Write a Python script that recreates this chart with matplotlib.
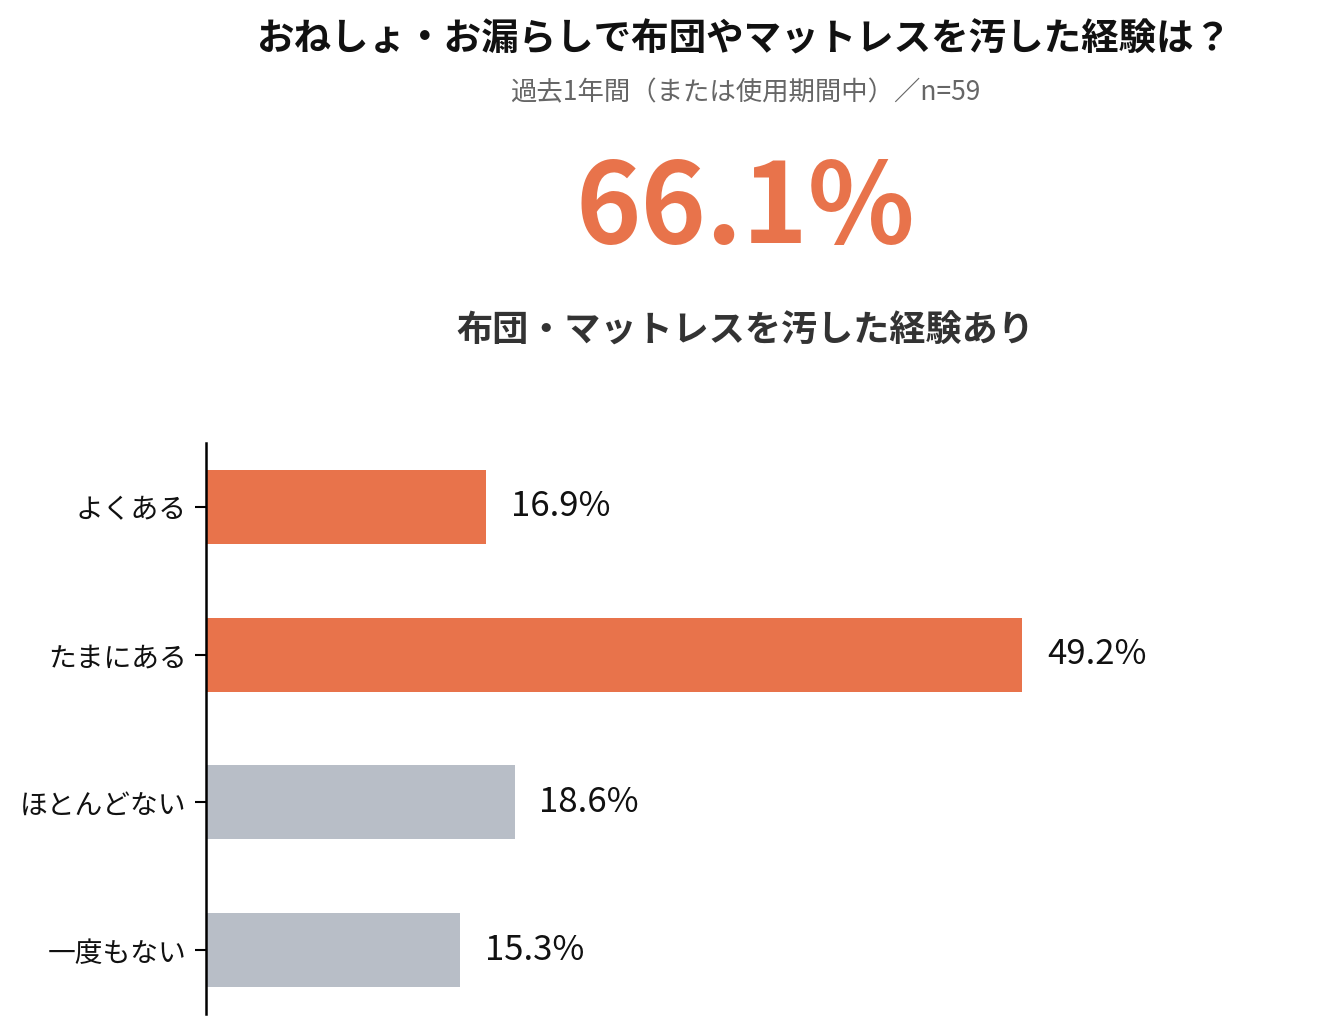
import matplotlib
matplotlib.use("Agg")
import matplotlib.pyplot as plt

plt.rcParams['font.family'] = ['Noto Sans CJK JP', 'DejaVu Sans']

categories = ["よくある", "たまにある", "ほとんどない", "一度もない"]
values = [16.9, 49.2, 18.6, 15.3]
colors = ["#E8734B", "#E8734B", "#B8BEC7", "#B8BEC7"]
title = "おねしょ・お漏らしで布団やマットレスを汚した経験は？"
subtitle = "過去1年間（または使用期間中）／n=59"
headline = "66.1%"
headline_label = "布団・マットレスを汚した経験あり"

fig = plt.figure(figsize=(13.41, 10.34), dpi=100)
ax = fig.add_axes([206/1341, 1-1014/1034, (1301-206)/1341, (1014-443)/1034])

y = list(range(len(categories)))
ax.barh(y, values, height=0.5, color=colors)
for yi, v in zip(y, values):
    ax.text(v + 1.5, yi, f"{v}%", va="center", ha="left", fontsize=25, color="#111111")

ax.set_ylim(3.43, -0.43)
ax.set_xlim(0, 66)
ax.set_yticks(y)
ax.set_yticklabels(categories, fontsize=20, color="#111111")
ax.tick_params(axis="y", length=8, width=1.5, pad=6)
ax.set_xticks([])
for s in ["top", "right", "bottom"]:
    ax.spines[s].set_visible(False)
ax.spines["left"].set_linewidth(1.8)

fig.text(0.555, 0.962, title, ha="center", va="center", fontsize=27, fontweight="bold", color="#111111")
fig.text(0.556, 0.910, subtitle, ha="center", va="center", fontsize=19, color="#666666")
fig.text(0.556, 0.7964, headline, ha="center", va="center", fontsize=80, fontweight="bold", color="#E8734B")
fig.text(0.556, 0.680, headline_label, ha="center", va="center", fontsize=26, fontweight="bold", color="#333333")

fig.savefig("out.png", dpi=100)
